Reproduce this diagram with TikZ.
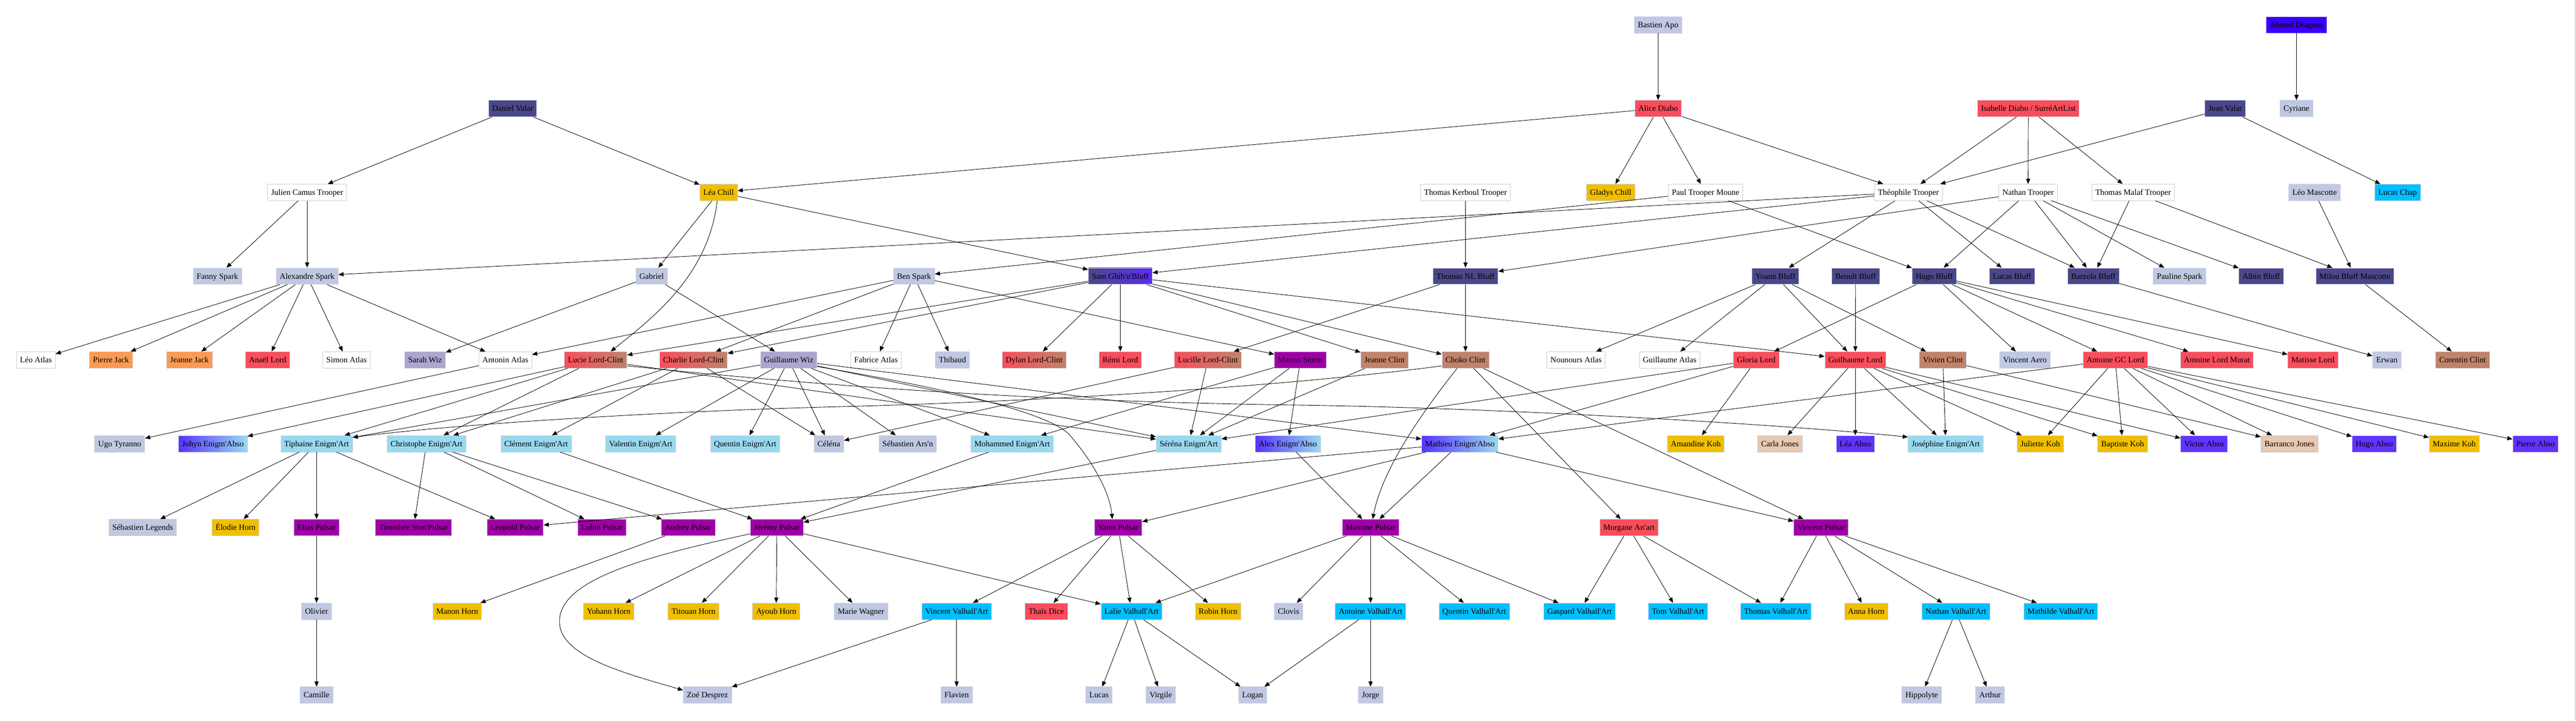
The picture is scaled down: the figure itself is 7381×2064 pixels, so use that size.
\documentclass[tikz,border=0pt]{standalone}
\usepackage{fontspec}
\setmainfont{Liberation Serif}
\newfontfamily\nodefont{Liberation Serif}
\usetikzlibrary{arrows.meta}
\definecolor{cPeri}{HTML}{C0C8E2}
\definecolor{cSlate}{HTML}{4A4889}
\definecolor{cRed}{HTML}{FA4D5C}
\definecolor{cGold}{HTML}{F0BF00}
\definecolor{cOrange}{HTML}{FD9A52}
\definecolor{cLav}{HTML}{ABA6CF}
\definecolor{cBrown}{HTML}{C0836A}
\definecolor{cPurple}{HTML}{A000A8}
\definecolor{cViolet}{HTML}{6033FF}
\definecolor{cSky}{HTML}{99D9F0}
\definecolor{cDeep}{HTML}{00BFFF}
\definecolor{cPeach}{HTML}{E8C8AE}
\definecolor{cDragon}{HTML}{3A00FF}
\definecolor{cBorder}{HTML}{C8CCE2}
\definecolor{cSamR}{HTML}{5B2CF5}
\definecolor{cAbsoL}{HTML}{5533FF}
\begin{document}
\begin{tikzpicture}[x=1pt,y=-1pt,
  nb/.style={rectangle, draw=cBorder, line width=1.2pt, minimum height=47pt, inner xsep=10pt, inner ysep=0pt, text height=15.4pt, text depth=0pt, font=\nodefont\fontsize{23.3pt}{28pt}\selectfont, text=black},
  fw/.style={nb, fill=white},
  fp/.style={nb, fill=cPeri},
  fs/.style={nb, fill=cSlate},
  fr/.style={nb, fill=cRed},
  fg/.style={nb, fill=cGold},
  fo/.style={nb, fill=cOrange},
  fl/.style={nb, fill=cLav},
  fb/.style={nb, fill=cBrown},
  fu/.style={nb, fill=cPurple},
  fv/.style={nb, fill=cViolet},
  fk/.style={nb, fill=cSky},
  fd/.style={nb, fill=cDeep},
  fc/.style={nb, fill=cPeach},
  fx/.style={nb, fill=cDragon},
  frb/.style={nb, left color=cRed, right color=cBrown},
  fsv/.style={nb, left color=cSlate, right color=cSamR},
  fab/.style={nb, left color=cAbsoL, right color=cSky},
  lnk/.style={draw=black, line width=1.3pt, -{Triangle[length=15pt,width=12pt]}}
]
\useasboundingbox (0,0) rectangle (7381,2064);
\draw[gray!55, line width=2pt] (7379,0) -- (7379,2064);
% row 0
\node[fp] (bastien) at (4751,71) {Bastien Apo};
\node[fx] (ahmed) at (6580,71) {Ahmed Dragons};
% row 1
\node[fs] (danielv) at (1469,311) {Daniel Valar};
\node[fr] (alice) at (4751,311) {Alice Diabo};
\node[fr] (isabelle) at (5812,311) {Isabelle Diabo / SurréArtList};
\node[fs] (jeanv) at (6376,311) {Jean Valar};
\node[fp] (cyriane) at (6580,311) {Cyriane};
% row 2
\node[fw] (julien) at (880,551) {Julien Camus Trooper};
\node[fg] (leachill) at (2059,551) {Léa Chill};
\node[fw] (kerboul) at (4199,551) {Thomas Kerboul Trooper};
\node[fg] (gladys) at (4615,551) {Gladys Chill};
\node[fw] (paul) at (4887,551) {Paul Trooper Moune};
\node[fw] (theo) at (5468,551) {Théophile Trooper};
\node[fw] (nathan) at (5811,551) {Nathan Trooper};
\node[fw] (malaf) at (6112,551) {Thomas Malaf Trooper};
\node[fp] (leomasc) at (6632,551) {Léo Mascotte};
\node[fd] (lucaschap) at (6870,551) {Lucas Chap};
% row 3
\node[fp] (fanny) at (623,791) {Fanny Spark};
\node[fp] (alexandre) at (880,791) {Alexandre Spark};
\node[fp] (gabriel) at (1867,791) {Gabriel};
\node[fp] (ben) at (2619,791) {Ben Spark};
\node[fsv] (sam) at (3210,791) {Sam Ghib'n'Bluff};
\node[fs] (thomasnl) at (4199,791) {Thomas NL Bluff};
\node[fs] (yoann) at (5087,791) {Yoann Bluff};
\node[fs] (benoit) at (5317,791) {Benoît Bluff};
\node[fs] (hugob) at (5542,791) {Hugo Bluff};
\node[fs] (lucasb) at (5765,791) {Lucas Bluff};
\node[fs] (barzola) at (5998,791) {Barzola Bluff};
\node[fp] (pauline) at (6245,791) {Pauline Spark};
\node[fs] (albin) at (6479,791) {Albin Bluff};
\node[fs] (milou) at (6747,791) {Milou Bluff Mascotte};
% row 4
\node[fw] (leoatlas) at (103,1031) {Léo Atlas};
\node[fo] (pierrej) at (318,1031) {Pierre Jack};
\node[fo] (jeannej) at (543,1031) {Jeanne Jack};
\node[fr] (anael) at (767,1031) {Anaël Lord};
\node[fw] (simon) at (993,1031) {Simon Atlas};
\node[fl] (sarah) at (1218,1031) {Sarah Wiz};
\node[fw] (antonin) at (1448,1031) {Antonin Atlas};
\node[frb] (lucie) at (1707,1031) {Lucie Lord-Clint};
\node[frb] (charlie) at (1987,1031) {Charlie Lord-Clint};
\node[fl] (guiwiz) at (2260,1031) {Guillaume Wiz};
\node[fw] (fabrice) at (2510,1031) {Fabrice Atlas};
\node[fp] (thibaud) at (2729,1031) {Thibaud};
\node[frb] (dylan) at (2963,1031) {Dylan Lord-Clint};
\node[fr] (remi) at (3210,1031) {Rémi Lord};
\node[frb] (lucille) at (3461,1031) {Lucille Lord-Clint};
\node[fu] (manon) at (3726,1031) {Manon Storm};
\node[fb] (jeannec) at (3967,1031) {Jeanne Clint};
\node[fb] (choko) at (4199,1031) {Choko Clint};
\node[fw] (nounours) at (4516,1031) {Nounours Atlas};
\node[fw] (guiatlas) at (4784,1031) {Guillaume Atlas};
\node[fr] (gloria) at (5032,1031) {Gloria Lord};
\node[fr] (guilhaume) at (5316,1031) {Guilhaume Lord};
\node[fb] (vivien) at (5567,1031) {Vivien Clint};
\node[fp] (vaero) at (5802,1031) {Vincent Aero};
\node[fr] (antoinegc) at (6061,1031) {Antoine GC Lord};
\node[fr] (antoinelm) at (6352,1031) {Antoine Lord Murat};
\node[fr] (matisse) at (6627,1031) {Matisse Lord};
\node[fp] (erwan) at (6839,1031) {Erwan};
\node[fb] (corentin) at (7056,1031) {Corentin Clint};
% row 5
\node[fp] (ugo) at (343,1271) {Ugo Tyranno};
\node[fab] (johyn) at (610,1271) {Johyn Enigm'Abso};
\node[fk] (tiphaine) at (907,1271) {Tiphaine Enigm'Art};
\node[fk] (christophe) at (1222,1271) {Christophe Enigm'Art};
\node[fk] (clement) at (1536,1271) {Clément Enigm'Art};
\node[fk] (valentin) at (1836,1271) {Valentin Enigm'Art};
\node[fk] (quentine) at (2135,1271) {Quentin Enigm'Art};
\node[fp] (celena) at (2375,1271) {Céléna};
\node[fp] (sebars) at (2601,1271) {Sébastien Ars'n};
\node[fk] (mohammed) at (2900,1271) {Mohammed Enigm'Art};
\node[fk] (serena) at (3406,1271) {Séréna Enigm'Art};
\node[fab] (alex) at (3690,1271) {Alex Enigm'Abso};
\node[fab] (mathieu) at (4183,1271) {Mathieu Enigm'Abso};
\node[fg] (amandine) at (4859,1271) {Amandine Koh};
\node[fc] (carla) at (5100,1271) {Carla Jones};
\node[fv] (leaabso) at (5316,1271) {Léa Abso};
\node[fk] (josephine) at (5575,1271) {Joséphine Enigm'Art};
\node[fg] (juliette) at (5846,1271) {Juliette Koh};
\node[fg] (baptiste) at (6082,1271) {Baptiste Koh};
\node[fv] (victor) at (6315,1271) {Victor Abso};
\node[fc] (barranco) at (6560,1271) {Barranco Jones};
\node[fv] (hugoabso) at (6803,1271) {Hugo Abso};
\node[fg] (maximekoh) at (7032,1271) {Maxime Koh};
\node[fv] (pierreabso) at (7265,1271) {Pierre Abso};
% row 6
\node[fp] (seblegends) at (409,1511) {Sébastien Legends};
\node[fg] (elodie) at (675,1511) {Élodie Horn};
\node[fu] (elias) at (907,1511) {Elias Pulsar};
\node[fu] (timothee) at (1185,1511) {Timothée Stan'Pulsar};
\node[fu] (leopold) at (1476,1511) {Leopold Pulsar};
\node[fu] (lubin) at (1725,1511) {Lubin Pulsar};
\node[fu] (audrey) at (1972,1511) {Audrey Pulsar};
\node[fu] (jeremy) at (2226,1511) {Jérémy Pulsar};
\node[fu] (yanis) at (3204,1511) {Yanis Pulsar};
\node[fu] (maximep) at (3927,1511) {Maxime Pulsar};
\node[fr] (morgane) at (4667,1511) {Morgane An'art};
\node[fu] (vincentp) at (5218,1511) {Vincent Pulsar};
% row 7
\node[fp] (olivier) at (907,1751) {Olivier};
\node[fg] (manonh) at (1310,1751) {Manon Horn};
\node[fg] (yohann) at (1744,1751) {Yohann Horn};
\node[fg] (titouan) at (1987,1751) {Titouan Horn};
\node[fg] (ayoub) at (2224,1751) {Ayoub Horn};
\node[fp] (marie) at (2467,1751) {Marie Wagner};
\node[fd] (vincentv) at (2741,1751) {Vincent Valhall'Art};
\node[fr] (thais) at (2998,1751) {Thaïs Dice};
\node[fd] (lalie) at (3242,1751) {Lalie Valhall'Art};
\node[fg] (robin) at (3490,1751) {Robin Horn};
\node[fp] (clovis) at (3692,1751) {Clovis};
\node[fd] (antoinev) at (3927,1751) {Antoine Valhall'Art};
\node[fd] (quentinv) at (4224,1751) {Quentin Valhall'Art};
\node[fd] (gaspard) at (4526,1751) {Gaspard Valhall'Art};
\node[fd] (tom) at (4808,1751) {Tom Valhall'Art};
\node[fd] (thomasv) at (5088,1751) {Thomas Valhall'Art};
\node[fg] (anna) at (5347,1751) {Anna Horn};
\node[fd] (nathanv) at (5604,1751) {Nathan Valhall'Art};
\node[fd] (mathilde) at (5905,1751) {Mathilde Valhall'Art};
% row 8
\node[fp] (camille) at (907,1991) {Camille};
\node[fp] (zoe) at (2027,1991) {Zoé Desprez};
\node[fp] (flavien) at (2741,1991) {Flavien};
\node[fp] (lucas) at (3149,1991) {Lucas};
\node[fp] (virgile) at (3326,1991) {Virgile};
\node[fp] (logan) at (3589,1991) {Logan};
\node[fp] (jorge) at (3927,1991) {Jorge};
\node[fp] (hippolyte) at (5506,1991) {Hippolyte};
\node[fp] (arthur) at (5702,1991) {Arthur};
% straight connectors
\foreach \a/\b in {bastien/alice, ahmed/cyriane, danielv/julien, danielv/leachill, alice/leachill, alice/gladys, alice/paul, alice/theo, isabelle/theo, isabelle/nathan, isabelle/malaf, jeanv/theo, jeanv/lucaschap,
julien/fanny, julien/alexandre, leachill/gabriel, leachill/sam, kerboul/thomasnl, paul/ben, paul/hugob, theo/alexandre, theo/sam, theo/yoann, theo/lucasb, theo/barzola, nathan/thomasnl, nathan/hugob, nathan/barzola, nathan/pauline, nathan/albin, malaf/barzola, malaf/milou, leomasc/milou,
alexandre/leoatlas, alexandre/pierrej, alexandre/jeannej, alexandre/anael, alexandre/simon, alexandre/antonin, gabriel/sarah, gabriel/guiwiz, ben/antonin, ben/charlie, ben/fabrice, ben/thibaud, ben/manon, sam/lucie, sam/charlie, sam/dylan, sam/remi, sam/guilhaume, sam/choko, sam/jeannec, thomasnl/lucille, thomasnl/choko, yoann/nounours, yoann/guiatlas, yoann/guilhaume, yoann/vivien, benoit/guilhaume, hugob/gloria, hugob/vaero, hugob/antoinegc, hugob/antoinelm, hugob/matisse, barzola/erwan, milou/corentin,
antonin/ugo, lucie/johyn, lucie/tiphaine, lucie/christophe, lucie/serena, charlie/christophe, charlie/clement, charlie/celena, guiwiz/tiphaine, guiwiz/valentin, guiwiz/quentine, guiwiz/celena, guiwiz/sebars, guiwiz/mohammed, guiwiz/serena, guiwiz/mathieu, lucille/celena, lucille/serena, manon/mohammed, manon/serena, manon/alex, jeannec/serena, choko/morgane, choko/vincentp, gloria/amandine, gloria/serena, gloria/mathieu, guilhaume/carla, guilhaume/leaabso, guilhaume/josephine, guilhaume/juliette, guilhaume/baptiste, guilhaume/victor, vivien/josephine, vivien/barranco, antoinegc/mathieu, antoinegc/juliette, antoinegc/baptiste, antoinegc/victor, antoinegc/barranco, antoinegc/hugoabso, antoinegc/maximekoh, antoinegc/pierreabso,
tiphaine/seblegends, tiphaine/elodie, tiphaine/elias, tiphaine/leopold, christophe/timothee, christophe/lubin, christophe/audrey, clement/jeremy, mohammed/jeremy, serena/jeremy, alex/maximep, mathieu/leopold, mathieu/yanis, mathieu/maximep, mathieu/vincentp,
elias/olivier, audrey/manonh, jeremy/yohann, jeremy/titouan, jeremy/ayoub, jeremy/marie, jeremy/lalie, yanis/vincentv, yanis/thais, yanis/lalie, yanis/robin, maximep/lalie, maximep/clovis, maximep/antoinev, maximep/quentinv, maximep/gaspard, morgane/gaspard, morgane/tom, morgane/thomasv, vincentp/thomasv, vincentp/anna, vincentp/nathanv, vincentp/mathilde,
olivier/camille, vincentv/zoe, vincentv/flavien, lalie/lucas, lalie/virgile, lalie/logan, antoinev/logan, antoinev/jorge, nathanv/hippolyte, nathanv/arthur}
  \draw[lnk] (\a) -- (\b);
% curved connectors
\draw[lnk] ([xshift=-4pt]leachill.south) .. controls (2030,790) and (1870,910) .. ([xshift=43pt]lucie.north);
\draw[lnk] ([yshift=-18pt]jeremy.west) .. controls (1849,1594) and (1603,1660) .. (1603,1780) .. controls (1603,1880) and (1789,1928) .. ([yshift=-10pt]zoe.north west);
\draw[lnk] ([yshift=-17pt]choko.west) .. controls (3700,1105) and (3000,1150) .. (2400,1165) .. controls (1900,1178) and (1300,1215) .. ([yshift=-6pt]tiphaine.north east);
\draw[lnk] ([yshift=-17pt]lucie.east) .. controls (2400,1110) and (3000,1150) .. (3700,1160) .. controls (4300,1168) and (5100,1215) .. ([yshift=-5pt]josephine.north west);
\draw[lnk] ([xshift=-24pt]choko.south) .. controls (4060,1200) and (3960,1350) .. ([xshift=6pt]maximep.north);
\draw[lnk] ([yshift=-19pt]guiwiz.east) .. controls (2700,1110) and (3000,1180) .. (3063,1244) .. controls (3130,1320) and (3180,1410) .. ([xshift=-17pt]yanis.north);
\end{tikzpicture}
\end{document}
